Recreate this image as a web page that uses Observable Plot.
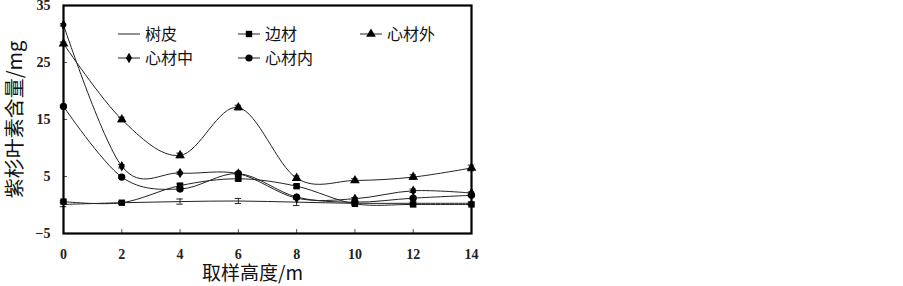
<!DOCTYPE html>
<html><head><meta charset="utf-8">
<script src="https://cdn.jsdelivr.net/npm/d3@7"></script>
<script src="https://cdn.jsdelivr.net/npm/@observablehq/plot@0.6"></script>
<style>body{margin:0;background:#fff}</style>
</head><body><div id="chart"></div>
<script>
const heights = [0, 2, 4, 6, 8, 10, 12, 14];
const seriesNames = ["树皮", "边材", "心材外", "心材中", "心材内"];
const bark =    [0.1, 0.4, 0.6, 0.7, 0.5, 0.3, 0.3, 0.3];
const sapwood = [0.6, 0.4, 3.4, 4.6, 3.3, 0.2, 0.1, 0.1];
const outer =   [28.3, 15.0, 8.7, 17.1, 4.7, 4.3, 4.9, 6.5];
const middle =  [31.6, 6.8, 5.6, 5.5, 1.2, 1.1, 2.5, 2.1];
const inner =   [17.3, 4.9, 2.8, 5.5, 1.4, 0.5, 1.2, 1.7];
const barkErr =    [0.4, 0.2, 0.45, 0.45, 0.6, 0.2, 0.2, 0.2];
const sapwoodErr = [0.2, 0.2, 0.3, 0.3, 0.3, 0.2, 0.2, 0.2];
const outerErr =   [0.3, 0.4, 0.4, 0.4, 0.4, 0.3, 0.4, 0.5];
const middleErr =  [0.2, 0.3, 0.2, 0.2, 0.2, 0.2, 0.3, 0.2];
const innerErr =   [0.2, 0.2, 0.2, 0.2, 0.2, 0.2, 0.2, 0.2];
const yTicks = [-5, 5, 15, 25, 35];
const xTicks = [0, 2, 4, 6, 8, 10, 12, 14];

const values = [bark, sapwood, outer, middle, inner];
const errs = [barkErr, sapwoodErr, outerErr, middleErr, innerErr];
const symbols = [null, "square", "triangle", "diamond", "circle"];
const sizes = [0, 3.6, 3.6, 3.2, 3.6];

const data = [];
seriesNames.forEach((s, i) => heights.forEach((h, j) => data.push({series: s, x: h, y: values[i][j], e: errs[i][j], idx: i})));

const marks = [];
seriesNames.forEach((s, i) => {
  const d = data.filter(r => r.series === s);
  marks.push(Plot.line(d, {x: "x", y: "y", curve: "cardinal", tension: 0, stroke: "#222", strokeWidth: 1}));
  marks.push(Plot.ruleX(d, {x: "x", y1: r => r.y - r.e, y2: r => r.y + r.e, stroke: "#222", strokeWidth: 1}));
  marks.push(Plot.ruleY(d, {y: r => r.y + r.e, x1: r => r.x - 0.11, x2: r => r.x + 0.11, stroke: "#222", strokeWidth: 1}));
  marks.push(Plot.ruleY(d, {y: r => r.y - r.e, x1: r => r.x - 0.11, x2: r => r.x + 0.11, stroke: "#222", strokeWidth: 1}));
  if (symbols[i]) marks.push(Plot.dot(d, {x: "x", y: "y", symbol: symbols[i], r: sizes[i], fill: "#000", stroke: "none"}));
});

const plot = Plot.plot({
  width: 903, height: 286,
  marginLeft: 63, marginRight: 432, marginTop: 5, marginBottom: 53,
  style: {fontFamily: "'Liberation Serif', serif", fontSize: "14px", background: "#fff", color: "#000"},
  x: {domain: [0, 14]},
  y: {domain: [-5, 35]},
  marks: [
    Plot.axisY(yTicks, {tickSize: -4, text: null, label: null, stroke: "#555"}),
    Plot.axisY(yTicks, {tickSize: 0, tickPadding: 13, label: null, fontWeight: "bold", fill: "#222"}),
    Plot.axisX(xTicks, {tickSize: -4, text: null, label: null, stroke: "#555"}),
    Plot.axisX(xTicks, {tickSize: 0, tickPadding: 16, label: null, fontWeight: "bold", fill: "#222"}),
    ...marks,
    Plot.frame({stroke: "#000", strokeWidth: 2.2}),
    Plot.text(["紫杉叶素含量/mg"], {frameAnchor: "left", dx: -48, rotate: -90, textAnchor: "middle", lineAnchor: "middle", fontSize: 20, fontFamily: "'Noto Sans CJK SC', sans-serif", fill: "#111"}),
    Plot.text(["取样高度/m"], {frameAnchor: "bottom", dy: 40, dx: -15, textAnchor: "middle", lineAnchor: "middle", fontSize: 19, fontFamily: "'Noto Sans CJK SC', sans-serif", fill: "#111"})
  ]
});
document.getElementById("chart").appendChild(plot);

// legend inside the frame
const svg = d3.select(plot);
const legendPos = [[118, 34], [238, 34], [360, 34], [118, 58], [238, 58]];
const g = svg.append("g").attr("text-anchor", "start");
seriesNames.forEach((s, i) => {
  const [lx, ly] = legendPos[i];
  g.append("line").attr("x1", lx).attr("x2", lx + 22).attr("y1", ly).attr("y2", ly).attr("stroke", "#222").attr("stroke-width", 1);
  if (symbols[i]) {
    const sym = {square: d3.symbolSquare, triangle: d3.symbolTriangle, diamond: d3.symbolDiamond, circle: d3.symbolCircle}[symbols[i]];
    g.append("path").attr("d", d3.symbol(sym, Math.PI * sizes[i] * sizes[i])()).attr("transform", `translate(${lx + 11},${ly})`).attr("fill", "#000");
  }
  g.append("text").attr("x", lx + 27).attr("y", ly).attr("dy", "0.35em").attr("font-size", 16).attr("text-anchor", "start")
    .attr("font-family", "'Noto Sans CJK SC', sans-serif").attr("fill", "#111").text(s);
});
</script>
</body></html>
